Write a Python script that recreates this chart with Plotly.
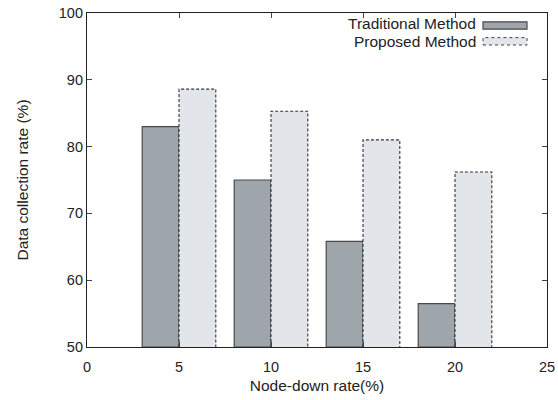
import plotly.graph_objects as go

rates = [5, 10, 15, 20]
traditional = [83.0, 75.0, 65.8, 56.5]
proposed = [88.6, 85.3, 81.0, 76.2]
series_names = ["Traditional Method", "Proposed Method"]
x_ticks = [0, 5, 10, 15, 20, 25]
y_ticks = [50, 60, 70, 80, 90, 100]

BAR_W = 2.0
BASE = 50

fig = go.Figure()
fig.add_trace(go.Bar(
    x=[r - BAR_W / 2 for r in rates], y=[v - BASE for v in traditional], base=BASE,
    width=BAR_W, name=series_names[0],
    marker=dict(color="#9ea5ab", line=dict(color="#4a4a4a", width=1.2)),
    showlegend=False))
fig.add_trace(go.Bar(
    x=[r + BAR_W / 2 for r in rates], y=[v - BASE for v in proposed], base=BASE,
    width=BAR_W, name=series_names[1],
    marker=dict(color="#e2e5ea", line=dict(width=0)),
    showlegend=False))
# dashed outline for proposed bars
ox, oy = [], []
for r, v in zip(rates, proposed):
    ox += [r, r, r + BAR_W, r + BAR_W, None]
    oy += [BASE, v, v, BASE, None]
fig.add_trace(go.Scatter(x=ox, y=oy, mode="lines",
                         line=dict(color="#333333", width=1.1, dash="3px,2px"),
                         showlegend=False, hoverinfo="skip"))

FAM = "Liberation Sans, Arial, sans-serif"
tick_font = dict(family=FAM, size=14.5, color="#222222")
title_font = dict(family=FAM, size=15.5, color="#222222")
legend_font = dict(family=FAM, size=15.5, color="#222222")
fig.update_layout(
    width=558, height=400,
    margin=dict(l=87, r=11, t=13, b=53),
    paper_bgcolor="white", plot_bgcolor="white",
    barmode="overlay", font=tick_font, showlegend=False,
    xaxis=dict(range=[0, 25], tickvals=x_ticks, ticks="inside", ticklen=5,
               showline=True, linecolor="#222222", linewidth=1.2, mirror="ticks",
               showgrid=False, zeroline=False, automargin=False,
               tickfont=tick_font, ticklabelstandoff=6,
               title=dict(text="Node-down rate(%)", standoff=6, font=title_font)),
    yaxis=dict(range=[50, 100], tickvals=y_ticks, ticks="inside", ticklen=5,
               showline=True, linecolor="#222222", linewidth=1.2, mirror="ticks",
               showgrid=False, zeroline=False, automargin=False,
               tickfont=tick_font,
               title=dict(text="Data collection rate (%)", standoff=26, font=title_font)),
)

# legend (text right-aligned, sample box at right)
legend_rows = [(series_names[0], 24.0, 25.5, dict(color="#9ea5ab", line=dict(color="#4a4a4a", width=1.2))),
               (series_names[1], 41.6, 41.3, dict(color="#e2e5ea", line=dict(color="#444444", width=1, dash="dot")))]
for name, ytxt, ybox, style in legend_rows:
    fig.add_annotation(x=(478 - 87) / 460, y=1 - (ytxt - 13) / 334, xref="paper", yref="paper",
                       text=name, showarrow=False, xanchor="right", yanchor="middle",
                       font=legend_font)
    fig.add_shape(type="rect", xref="paper", yref="paper",
                  x0=(483 - 87) / 460, x1=(527 - 87) / 460,
                  y0=1 - (ybox + 3.7 - 13) / 334, y1=1 - (ybox - 3.7 - 13) / 334,
                  fillcolor=style["color"], line=style["line"])

fig.write_html("out.html")
